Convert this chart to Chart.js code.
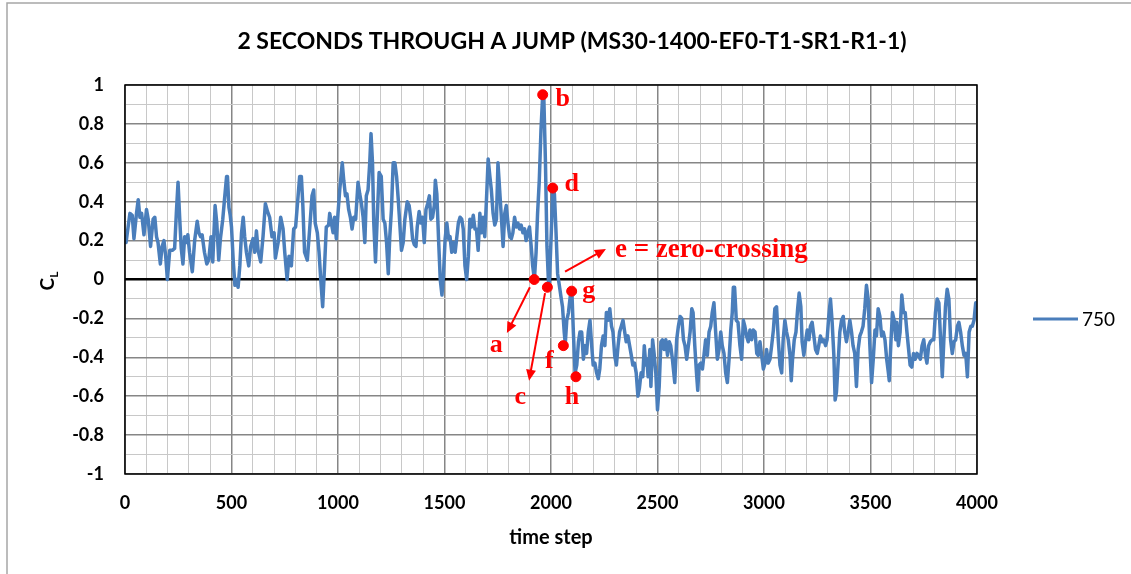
<!DOCTYPE html>
<html>
<head>
<meta charset="utf-8">
<script src="https://cdn.jsdelivr.net/npm/chart.js@4.4.0/dist/chart.umd.min.js"></script>
<style>
  html, body { margin: 0; padding: 0; background: #fff; }
  canvas { display: block; }
</style>
</head>
<body>
<canvas id="clChart" width="1131" height="574"></canvas>
<script>
const timeSteps = [
  0, 5, 23, 34, 42, 54, 62, 70, 78, 89, 101, 109, 120, 132, 140, 148, 155, 166, 174, 183,
  191, 199, 210, 222, 233, 241, 249, 257, 264, 272, 280, 288, 295, 303, 316, 327, 339, 347, 355, 362,
  373, 384, 393, 404, 412, 423, 431, 440, 448, 459, 467, 477, 481, 488, 494, 500, 508, 516, 523, 531,
  539, 547, 555, 562, 570, 581, 590, 601, 609, 617, 625, 637, 648, 659, 669, 679, 690, 700, 706, 719,
  731, 742, 750, 761, 770, 781, 792, 801, 809, 820, 828, 835, 843, 856, 867, 878, 886, 893, 903, 911,
  919, 928, 937, 945, 956, 961, 969, 977, 984, 992, 1000, 1008, 1020, 1027, 1035, 1042, 1050, 1058, 1066, 1074,
  1083, 1094, 1102, 1110, 1118, 1126, 1133, 1141, 1149, 1155, 1162, 1168, 1176, 1184, 1193, 1203, 1212, 1220, 1228, 1236,
  1243, 1251, 1259, 1267, 1275, 1283, 1291, 1298, 1306, 1314, 1325, 1334, 1342, 1350, 1358, 1366, 1372, 1381, 1389, 1397,
  1405, 1413, 1421, 1429, 1436, 1444, 1452, 1457, 1464, 1472, 1480, 1488, 1495, 1503, 1511, 1519, 1526, 1534, 1542, 1550,
  1557, 1565, 1573, 1581, 1588, 1596, 1604, 1612, 1619, 1627, 1635, 1643, 1650, 1658, 1666, 1674, 1681, 1689, 1697, 1705,
  1713, 1720, 1728, 1736, 1744, 1751, 1759, 1767, 1775, 1783, 1790, 1798, 1806, 1814, 1821, 1829, 1837, 1845, 1852, 1860,
  1868, 1876, 1883, 1891, 1899, 1907, 1914, 1922, 1930, 1937, 1945, 1953, 1961, 1966, 1974, 1981, 1988, 1992, 2002, 2009,
  2016, 2023, 2031, 2039, 2047, 2054, 2062, 2067, 2074, 2082, 2090, 2098, 2105, 2113, 2121, 2129, 2136, 2144, 2152, 2160,
  2167, 2175, 2183, 2191, 2198, 2206, 2214, 2222, 2229, 2237, 2245, 2253, 2260, 2268, 2276, 2284, 2291, 2299, 2307, 2315,
  2322, 2330, 2338, 2346, 2353, 2361, 2369, 2377, 2384, 2392, 2400, 2408, 2415, 2423, 2431, 2438, 2445, 2450, 2456, 2464,
  2469, 2477, 2484, 2492, 2500, 2508, 2516, 2523, 2531, 2539, 2547, 2555, 2562, 2570, 2581, 2590, 2598, 2606, 2614, 2622,
  2629, 2637, 2645, 2653, 2661, 2667, 2675, 2683, 2689, 2695, 2703, 2711, 2718, 2726, 2734, 2742, 2750, 2757, 2765, 2773,
  2781, 2789, 2797, 2804, 2812, 2820, 2828, 2836, 2844, 2851, 2856, 2862, 2870, 2878, 2887, 2895, 2903, 2910, 2918, 2926,
  2934, 2942, 2950, 2958, 2966, 2973, 2981, 2989, 2997, 3005, 3012, 3020, 3028, 3036, 3044, 3051, 3059, 3067, 3075, 3083,
  3090, 3098, 3106, 3114, 3122, 3128, 3134, 3142, 3150, 3158, 3165, 3173, 3179, 3187, 3195, 3203, 3211, 3218, 3226, 3234,
  3242, 3250, 3257, 3265, 3273, 3281, 3289, 3296, 3304, 3312, 3320, 3328, 3334, 3340, 3348, 3356, 3364, 3372, 3379, 3387,
  3395, 3403, 3411, 3418, 3426, 3434, 3442, 3450, 3457, 3465, 3473, 3481, 3489, 3497, 3505, 3513, 3521, 3528, 3536, 3544,
  3552, 3560, 3568, 3576, 3584, 3588, 3596, 3603, 3611, 3619, 3623, 3631, 3639, 3647, 3655, 3663, 3671, 3679, 3686, 3694,
  3702, 3710, 3718, 3726, 3734, 3742, 3750, 3758, 3765, 3773, 3781, 3789, 3797, 3805, 3813, 3821, 3829, 3837, 3844, 3852,
  3860, 3868, 3876, 3884, 3892, 3900, 3908, 3915, 3923, 3931, 3939, 3947, 3955, 3963, 3971, 3978, 3986, 3994, 4000
];

const clValues = [
  0.22, 0.19, 0.34, 0.33, 0.21, 0.34, 0.41, 0.32, 0.34, 0.23, 0.36, 0.31, 0.17, 0.31, 0.32, 0.22, 0.19, 0.08, 0.17, 0.20,
  0.12, 0.00, 0.15, 0.15, 0.16, 0.34, 0.50, 0.31, 0.16, 0.08, 0.22, 0.19, 0.23, 0.14, 0.04, 0.20, 0.30, 0.24, 0.22, 0.23,
  0.14, 0.08, 0.10, 0.22, 0.09, 0.38, 0.29, 0.10, 0.21, 0.31, 0.41, 0.53, 0.53, 0.37, 0.33, 0.27, 0.10, -0.03, 0.00, -0.04,
  0.07, 0.24, 0.32, 0.22, 0.14, 0.07, 0.17, 0.21, 0.14, 0.25, 0.15, 0.09, 0.22, 0.39, 0.35, 0.32, 0.22, 0.24, 0.11, 0.19,
  0.32, 0.26, 0.14, 0.00, 0.12, 0.07, 0.26, 0.27, 0.38, 0.53, 0.53, 0.38, 0.14, 0.10, 0.26, 0.43, 0.46, 0.29, 0.24, 0.14,
  0.00, -0.14, 0.07, 0.27, 0.28, 0.34, 0.29, 0.24, 0.32, 0.21, 0.34, 0.46, 0.60, 0.51, 0.43, 0.44, 0.36, 0.32, 0.26, 0.32,
  0.31, 0.50, 0.44, 0.39, 0.32, 0.19, 0.43, 0.46, 0.60, 0.75, 0.60, 0.29, 0.09, 0.31, 0.55, 0.53, 0.31, 0.29, 0.19, 0.03,
  0.22, 0.36, 0.60, 0.60, 0.53, 0.41, 0.27, 0.15, 0.19, 0.31, 0.40, 0.38, 0.31, 0.21, 0.18, 0.17, 0.27, 0.35, 0.29, 0.32,
  0.19, 0.36, 0.39, 0.43, 0.31, 0.32, 0.38, 0.51, 0.44, 0.21, 0.00, -0.08, 0.02, 0.21, 0.29, 0.21, 0.22, 0.14, 0.19, 0.14,
  0.21, 0.29, 0.32, 0.31, 0.26, 0.07, 0.00, 0.12, 0.31, 0.27, 0.33, 0.26, 0.26, 0.15, 0.34, 0.24, 0.32, 0.22, 0.41, 0.62,
  0.53, 0.46, 0.34, 0.28, 0.31, 0.60, 0.46, 0.32, 0.17, 0.34, 0.38, 0.29, 0.22, 0.21, 0.24, 0.32, 0.27, 0.29, 0.26, 0.28,
  0.24, 0.26, 0.20, 0.24, 0.27, 0.17, 0.07, 0.00, 0.14, 0.34, 0.51, 0.77, 0.95, 0.95, 0.60, 0.17, -0.01, -0.03, 0.26, 0.47,
  0.44, 0.26, 0.03, -0.03, -0.09, -0.14, -0.27, -0.33, -0.21, -0.17, -0.09, -0.06, -0.27, -0.48, -0.44, -0.32, -0.27, -0.27, -0.41, -0.34,
  -0.38, -0.27, -0.21, -0.34, -0.44, -0.43, -0.48, -0.51, -0.46, -0.34, -0.29, -0.34, -0.17, -0.21, -0.15, -0.24, -0.27, -0.39, -0.44, -0.34,
  -0.27, -0.24, -0.21, -0.27, -0.32, -0.29, -0.34, -0.39, -0.44, -0.43, -0.48, -0.60, -0.56, -0.48, -0.50, -0.34, -0.44, -0.41, -0.50, -0.36,
  -0.55, -0.31, -0.38, -0.48, -0.67, -0.55, -0.32, -0.31, -0.36, -0.31, -0.39, -0.32, -0.34, -0.41, -0.53, -0.31, -0.24, -0.19, -0.20, -0.31,
  -0.34, -0.41, -0.34, -0.27, -0.15, -0.17, -0.34, -0.48, -0.57, -0.44, -0.43, -0.46, -0.39, -0.31, -0.39, -0.27, -0.24, -0.17, -0.12, -0.27,
  -0.41, -0.36, -0.27, -0.34, -0.38, -0.48, -0.53, -0.41, -0.26, -0.17, -0.04, -0.04, -0.21, -0.22, -0.34, -0.41, -0.21, -0.24, -0.29, -0.32,
  -0.26, -0.31, -0.26, -0.27, -0.38, -0.39, -0.32, -0.39, -0.46, -0.43, -0.36, -0.43, -0.41, -0.34, -0.26, -0.15, -0.14, -0.31, -0.44, -0.48,
  -0.31, -0.21, -0.27, -0.31, -0.39, -0.52, -0.41, -0.31, -0.27, -0.15, -0.07, -0.14, -0.32, -0.39, -0.32, -0.26, -0.31, -0.24, -0.22, -0.29,
  -0.36, -0.38, -0.34, -0.29, -0.32, -0.31, -0.34, -0.31, -0.19, -0.10, -0.22, -0.39, -0.62, -0.58, -0.43, -0.27, -0.21, -0.19, -0.27, -0.32,
  -0.27, -0.21, -0.27, -0.34, -0.38, -0.55, -0.36, -0.29, -0.27, -0.24, -0.15, -0.03, -0.10, -0.34, -0.53, -0.41, -0.26, -0.29, -0.15, -0.19,
  -0.29, -0.27, -0.31, -0.41, -0.48, -0.52, -0.32, -0.17, -0.21, -0.31, -0.22, -0.34, -0.27, -0.08, -0.17, -0.17, -0.27, -0.36, -0.44, -0.45,
  -0.38, -0.41, -0.38, -0.39, -0.41, -0.34, -0.31, -0.39, -0.43, -0.34, -0.32, -0.31, -0.31, -0.17, -0.10, -0.12, -0.31, -0.50, -0.32, -0.14,
  -0.05, -0.10, -0.31, -0.38, -0.32, -0.31, -0.24, -0.22, -0.27, -0.34, -0.39, -0.38, -0.50, -0.27, -0.24, -0.24, -0.21, -0.12, -0.12
];

const seriesName = '750';
const xTickLabels = ['0', '500', '1000', '1500', '2000', '2500', '3000', '3500', '4000'];
const yTickLabels = ['-1', '-0.8', '-0.6', '-0.4', '-0.2', '0', '0.2', '0.4', '0.6', '0.8', '1'];

// labelled events around the jump
const markerNames = ['a', 'b', 'c', 'd', 'f', 'g', 'h'];
const markerSteps = [1921, 1961, 1983, 2008, 2058, 2097, 2117];
const markerValues = [0.0, 0.95, -0.04, 0.47, -0.34, -0.06, -0.5];

const lineBlue = '#4a7ebb';
const red = '#ff0000';
const majorGrid = '#868686';
const minorGrid = '#c8c8c8';

// pixel offsets of each letter from its dot
const letterOffset = {
  a: [-38, 66], b: [20, 5], c: [-27, 110], d: [19, -4],
  f: [-14, 16], g: [17, 0], h: [-4, 21]
};
// arrows, [step, CL] at tail and head
const arrows = [
  { from: [1901, -0.04], to: [1793, -0.275] },
  { from: [1972, -0.07], to: [1897, -0.52] },
  { from: [2066, 0.04], to: [2258, 0.157] }
];

function drawArrow(ctx, x0, y0, x1, y1) {
  const ang = Math.atan2(y1 - y0, x1 - x0);
  const len = 11, half = 5;
  ctx.beginPath();
  ctx.moveTo(x0, y0);
  ctx.lineTo(x1 - Math.cos(ang) * len * 0.8, y1 - Math.sin(ang) * len * 0.8);
  ctx.stroke();
  ctx.beginPath();
  ctx.moveTo(x1, y1);
  ctx.lineTo(x1 - Math.cos(ang) * len - Math.sin(ang) * half, y1 - Math.sin(ang) * len + Math.cos(ang) * half);
  ctx.lineTo(x1 - Math.cos(ang) * len + Math.sin(ang) * half, y1 - Math.sin(ang) * len - Math.cos(ang) * half);
  ctx.closePath();
  ctx.fill();
}

const decorations = {
  id: 'decorations',
  beforeDraw(chart) {
    const ctx = chart.ctx;
    ctx.save();
    ctx.fillStyle = '#fff';
    ctx.fillRect(0, 0, chart.width, chart.height);
    ctx.strokeStyle = '#a6a6a6';
    ctx.lineWidth = 1.5;
    ctx.strokeRect(7, 3, chart.width + 20, chart.height + 20);
    ctx.restore();
  },
  afterDatasetsDraw(chart) {
    const { ctx, chartArea: a, scales: { x, y } } = chart;
    ctx.save();

    // plot frame
    ctx.strokeStyle = '#000';
    ctx.lineWidth = 1.5;
    ctx.strokeRect(a.left, a.top, a.right - a.left, a.bottom - a.top);

    // title
    ctx.fillStyle = '#000';
    ctx.font = 'bold 23px Lato';
    ctx.textAlign = 'center';
    ctx.textBaseline = 'middle';
    ctx.fillText('2 SECONDS THROUGH A JUMP (MS30-1400-EF0-T1-SR1-R1-1)', 572, 42);

    // y axis title with subscript
    ctx.save();
    ctx.translate(47, 281);
    ctx.rotate(-Math.PI / 2);
    ctx.textAlign = 'left';
    ctx.textBaseline = 'alphabetic';
    ctx.font = 'bold 19px Lato';
    const cw = ctx.measureText('C').width;
    ctx.font = 'bold 12px Lato';
    const lw = ctx.measureText('L').width;
    ctx.font = 'bold 19px Lato';
    ctx.fillText('C', -(cw + lw) / 2, 7);
    ctx.font = 'bold 12px Lato';
    ctx.fillText('L', -(cw + lw) / 2 + cw, 11);
    ctx.restore();

    // legend
    ctx.strokeStyle = lineBlue;
    ctx.lineWidth = 3;
    ctx.beginPath();
    ctx.moveTo(1033, 319);
    ctx.lineTo(1078, 319);
    ctx.stroke();
    ctx.fillStyle = '#000';
    ctx.font = '19px Lato';
    ctx.textAlign = 'left';
    ctx.textBaseline = 'middle';
    ctx.fillText(seriesName, 1082, 320);

    // arrows and event letters
    ctx.strokeStyle = red;
    ctx.fillStyle = red;
    ctx.lineWidth = 2;
    arrows.forEach(ar => {
      drawArrow(ctx,
        x.getPixelForValue(ar.from[0]), y.getPixelForValue(ar.from[1]),
        x.getPixelForValue(ar.to[0]), y.getPixelForValue(ar.to[1]));
    });
    ctx.font = 'bold 26px "Liberation Serif"';
    ctx.textAlign = 'center';
    ctx.textBaseline = 'middle';
    markerNames.forEach((n, i) => {
      const off = letterOffset[n];
      ctx.fillText(n, x.getPixelForValue(markerSteps[i]) + off[0], y.getPixelForValue(markerValues[i]) + off[1]);
    });
    ctx.textAlign = 'left';
    ctx.font = 'bold 27px "Liberation Serif"';
    ctx.fillText('e = zero-crossing', x.getPixelForValue(2300), y.getPixelForValue(0.152));

    ctx.restore();
  }
};

const tickFont = { family: 'Lato', weight: 'bold', size: 18 };

new Chart(document.getElementById('clChart'), {
  type: 'line',
  data: {
    datasets: [
      {
        type: 'scatter',
        label: 'events',
        data: markerSteps.map((s, i) => ({ x: s, y: markerValues[i] })),
        pointRadius: 5,
        pointBackgroundColor: red,
        pointBorderColor: red,
        showLine: false,
        order: 0
      },
      {
        label: seriesName,
        data: timeSteps.map((s, i) => ({ x: s, y: clValues[i] })),
        borderColor: lineBlue,
        backgroundColor: lineBlue,
        borderWidth: 3.5,
        borderJoinStyle: 'round',
        borderCapStyle: 'round',
        pointRadius: 0,
        tension: 0,
        order: 1
      }
    ]
  },
  options: {
    responsive: false,
    animation: false,
    layout: { padding: { top: 85, right: 154, left: 0, bottom: 0 } },
    plugins: { legend: { display: false }, tooltip: { enabled: false } },
    scales: {
      x: {
        type: 'linear',
        min: 0,
        max: 4000,
        afterFit(scale) { scale.height = 100; },
        border: { display: false },
        grid: {
          drawTicks: false,
          color: c => (c.tick && c.tick.value % 500 === 0) ? majorGrid : minorGrid,
          lineWidth: c => (c.tick && c.tick.value % 500 === 0) ? 1.5 : 1
        },
        ticks: {
          stepSize: 100,
          autoSkip: false,
          maxRotation: 0,
          padding: 18,
          color: '#000',
          font: tickFont,
          callback: v => (v % 500 === 0 ? xTickLabels[v / 500] : '')
        },
        title: {
          display: true,
          text: 'time step',
          color: '#000',
          font: { family: 'Lato', weight: 'bold', size: 20 },
          padding: { top: 0, bottom: 24 }
        }
      },
      y: {
        min: -1,
        max: 1,
        afterFit(scale) { scale.width = 125; },
        border: { display: false },
        grid: {
          drawTicks: false,
          color: c => {
            const k = Math.round(c.tick.value * 10);
            return k === 0 ? '#000' : (k % 2 === 0 ? majorGrid : minorGrid);
          },
          lineWidth: c => {
            const k = Math.round(c.tick.value * 10);
            return k === 0 ? 2.5 : (k % 2 === 0 ? 1.5 : 1);
          }
        },
        ticks: {
          stepSize: 0.1,
          autoSkip: false,
          padding: 21,
          color: '#000',
          font: tickFont,
          callback: v => {
            const k = Math.round(v * 10);
            return k % 2 === 0 ? yTickLabels[(k + 10) / 2] : '';
          }
        }
      }
    }
  },
  plugins: [decorations]
});
</script>
</body>
</html>
